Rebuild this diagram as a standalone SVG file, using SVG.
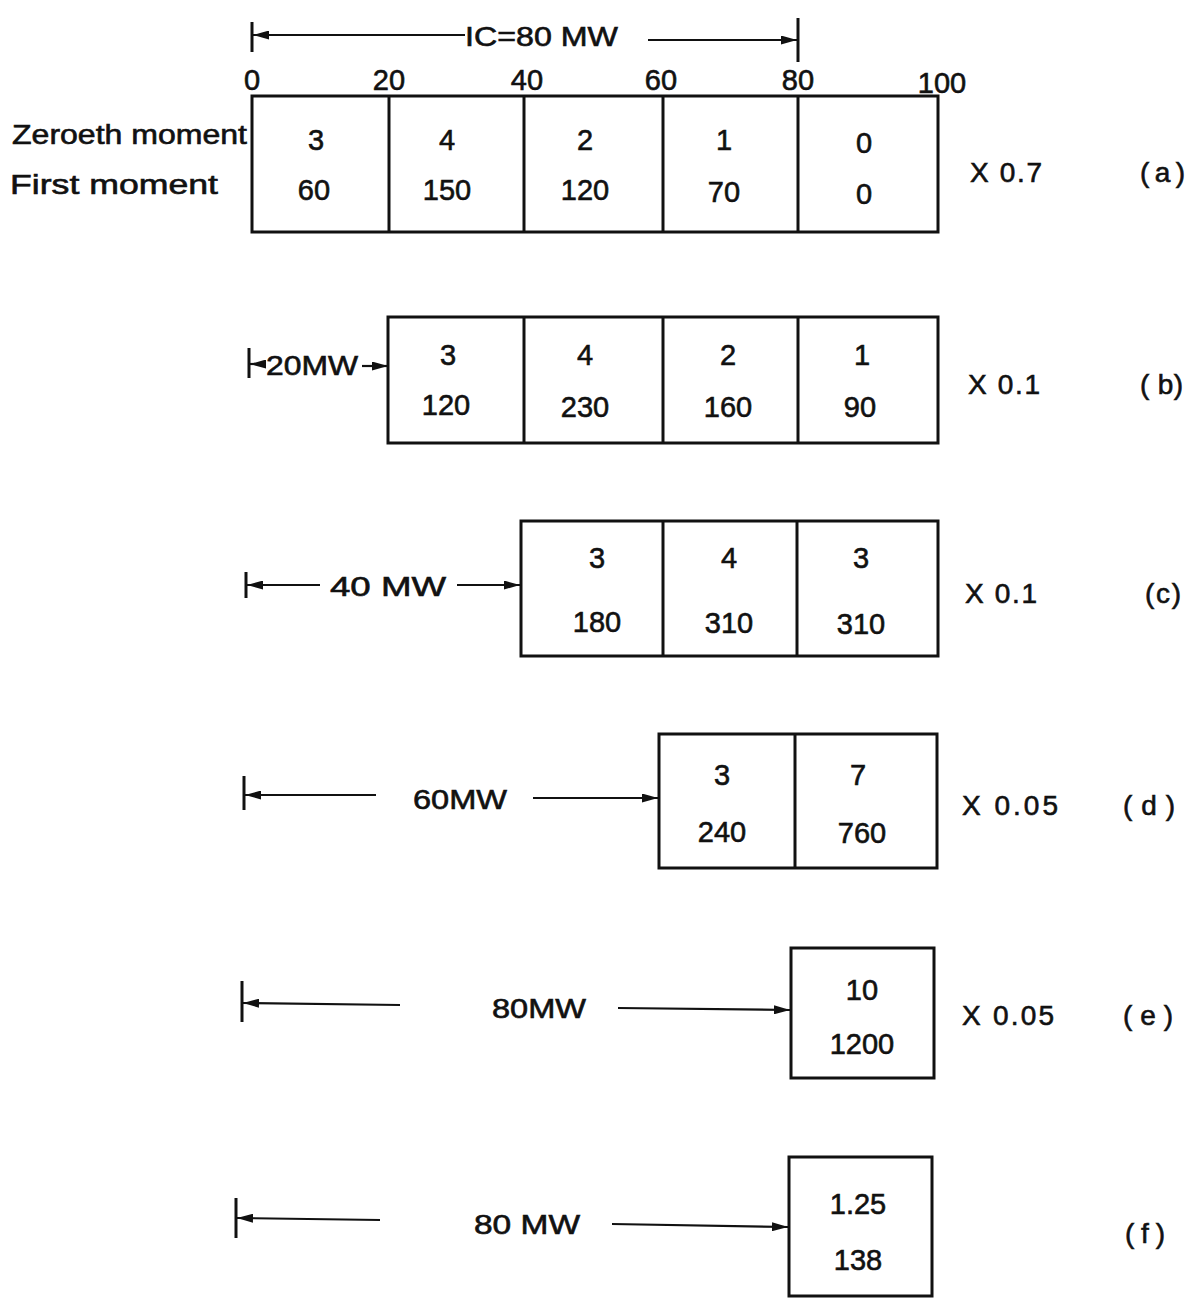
<svg xmlns="http://www.w3.org/2000/svg" width="1193" height="1298" viewBox="0 0 1193 1298">
<style>
text{font-family:"Liberation Sans","DejaVu Sans",sans-serif;fill:#111;stroke:#111;stroke-width:0.6;}
.v{font-size:29px;text-anchor:middle;}
.lab{font-size:27px;}
.side{font-size:28px;}
.box{fill:none;stroke:#111;stroke-width:3;}
.div{stroke:#111;stroke-width:3;}
.ln{stroke:#111;stroke-width:2.2;fill:none;}
.tick{stroke:#111;stroke-width:3;}
</style>
<defs>
<marker id="ah" viewBox="0 0 16 9" refX="16" refY="4.5" markerWidth="16" markerHeight="9" markerUnits="userSpaceOnUse" orient="auto-start-reverse">
<path d="M0,0 L16,4.5 L0,9 Z" fill="#111"/>
</marker>
</defs>

<g id="connectors">
<!-- a -->
<line class="tick" x1="252" y1="22" x2="252" y2="52"/>
<line class="ln" x1="253" y1="35" x2="465" y2="35" marker-start="url(#ah)"/>
<line class="ln" x1="648" y1="40" x2="797" y2="40" marker-end="url(#ah)"/>
<line class="tick" x1="798" y1="18" x2="798" y2="62"/>
<!-- b -->
<line class="tick" x1="249" y1="348" x2="249" y2="378"/>
<line class="ln" x1="250" y1="364" x2="266" y2="364" marker-start="url(#ah)"/>
<line class="ln" x1="362" y1="366" x2="388" y2="366" marker-end="url(#ah)"/>
<!-- c -->
<line class="tick" x1="246" y1="572" x2="246" y2="598"/>
<line class="ln" x1="247" y1="585" x2="320" y2="585" marker-start="url(#ah)"/>
<line class="ln" x1="457" y1="585" x2="520" y2="585" marker-end="url(#ah)"/>
<!-- d -->
<line class="tick" x1="244" y1="776" x2="244" y2="810"/>
<line class="ln" x1="245" y1="795" x2="376" y2="795" marker-start="url(#ah)"/>
<line class="ln" x1="533" y1="798" x2="658" y2="798" marker-end="url(#ah)"/>
<!-- e -->
<line class="tick" x1="242" y1="981" x2="242" y2="1022"/>
<line class="ln" x1="243" y1="1003" x2="400" y2="1005" marker-start="url(#ah)"/>
<line class="ln" x1="618" y1="1008" x2="790" y2="1010" marker-end="url(#ah)"/>
<!-- f -->
<line class="tick" x1="236" y1="1198" x2="236" y2="1238"/>
<line class="ln" x1="237" y1="1218" x2="380" y2="1220" marker-start="url(#ah)"/>
<line class="ln" x1="612" y1="1224" x2="788" y2="1227" marker-end="url(#ah)"/>
</g>

<g id="row-a">
<text class="lab" x="465" y="46" textLength="153" lengthAdjust="spacingAndGlyphs">IC=80 MW</text>
<text class="v" x="252" y="90">0</text>
<text class="v" x="389" y="90">20</text>
<text class="v" x="527" y="90">40</text>
<text class="v" x="661" y="90">60</text>
<text class="v" x="798" y="90">80</text>
<text class="v" x="942" y="93">100</text>
<text class="lab" x="12" y="144" textLength="235" lengthAdjust="spacingAndGlyphs">Zeroeth moment</text>
<text class="lab" x="10" y="194" textLength="208" lengthAdjust="spacingAndGlyphs">First moment</text>
<rect class="box" x="252" y="96" width="686" height="136"/>
<line class="div" x1="389" y1="96" x2="389" y2="232"/>
<line class="div" x1="524" y1="96" x2="524" y2="232"/>
<line class="div" x1="663" y1="96" x2="663" y2="232"/>
<line class="div" x1="798" y1="96" x2="798" y2="232"/>
<text class="v" x="316" y="150">3</text>
<text class="v" x="447" y="150">4</text>
<text class="v" x="585" y="150">2</text>
<text class="v" x="724" y="150">1</text>
<text class="v" x="864" y="153">0</text>
<text class="v" x="314" y="200">60</text>
<text class="v" x="447" y="200">150</text>
<text class="v" x="585" y="200">120</text>
<text class="v" x="724" y="202">70</text>
<text class="v" x="864" y="204">0</text>
<text class="side" x="970" y="182" textLength="72" lengthAdjust="spacing">X 0.7</text>
<text class="side" x="1140" y="182" textLength="45" lengthAdjust="spacing">(a)</text>
</g>

<g id="row-b">
<text class="lab" x="266" y="375" textLength="92" lengthAdjust="spacingAndGlyphs">20MW</text>
<rect class="box" x="388" y="317" width="550" height="126"/>
<line class="div" x1="524" y1="317" x2="524" y2="443"/>
<line class="div" x1="663" y1="317" x2="663" y2="443"/>
<line class="div" x1="798" y1="317" x2="798" y2="443"/>
<text class="v" x="448" y="365">3</text>
<text class="v" x="585" y="365">4</text>
<text class="v" x="728" y="365">2</text>
<text class="v" x="862" y="365">1</text>
<text class="v" x="446" y="415">120</text>
<text class="v" x="585" y="417">230</text>
<text class="v" x="728" y="417">160</text>
<text class="v" x="860" y="417">90</text>
<text class="side" x="968" y="394" textLength="72" lengthAdjust="spacing">X 0.1</text>
<text class="side" x="1140" y="394" textLength="43" lengthAdjust="spacing">( b)</text>
</g>

<g id="row-c">
<text class="lab" x="330" y="596" textLength="116" lengthAdjust="spacingAndGlyphs">40 MW</text>
<rect class="box" x="521" y="521" width="417" height="135"/>
<line class="div" x1="663" y1="521" x2="663" y2="656"/>
<line class="div" x1="797" y1="521" x2="797" y2="656"/>
<text class="v" x="597" y="568">3</text>
<text class="v" x="729" y="568">4</text>
<text class="v" x="861" y="568">3</text>
<text class="v" x="597" y="632">180</text>
<text class="v" x="729" y="633">310</text>
<text class="v" x="861" y="634">310</text>
<text class="side" x="965" y="603" textLength="72" lengthAdjust="spacing">X 0.1</text>
<text class="side" x="1145" y="603" textLength="36" lengthAdjust="spacing">(c)</text>
</g>

<g id="row-d">
<text class="lab" x="413" y="809" textLength="94" lengthAdjust="spacingAndGlyphs">60MW</text>
<rect class="box" x="659" y="734" width="278" height="134"/>
<line class="div" x1="795" y1="734" x2="795" y2="868"/>
<text class="v" x="722" y="785">3</text>
<text class="v" x="858" y="785">7</text>
<text class="v" x="722" y="842">240</text>
<text class="v" x="862" y="843">760</text>
<text class="side" x="962" y="815" textLength="96" lengthAdjust="spacing">X  0.05</text>
<text class="side" x="1123" y="815" textLength="52" lengthAdjust="spacing">(d)</text>
</g>

<g id="row-e">
<text class="lab" x="492" y="1018" textLength="94" lengthAdjust="spacingAndGlyphs">80MW</text>
<rect class="box" x="791" y="948" width="143" height="130"/>
<text class="v" x="862" y="1000">10</text>
<text class="v" x="862" y="1054">1200</text>
<text class="side" x="962" y="1025" textLength="92" lengthAdjust="spacing">X 0.05</text>
<text class="side" x="1123" y="1025" textLength="50" lengthAdjust="spacing">(e)</text>
</g>

<g id="row-f">
<text class="lab" x="474" y="1234" textLength="106" lengthAdjust="spacingAndGlyphs">80 MW</text>
<rect class="box" x="789" y="1157" width="143" height="139"/>
<text class="v" x="858" y="1214">1.25</text>
<text class="v" x="858" y="1270">138</text>
<text class="side" x="1125" y="1243" textLength="40" lengthAdjust="spacing">(f)</text>
</g>
</svg>
